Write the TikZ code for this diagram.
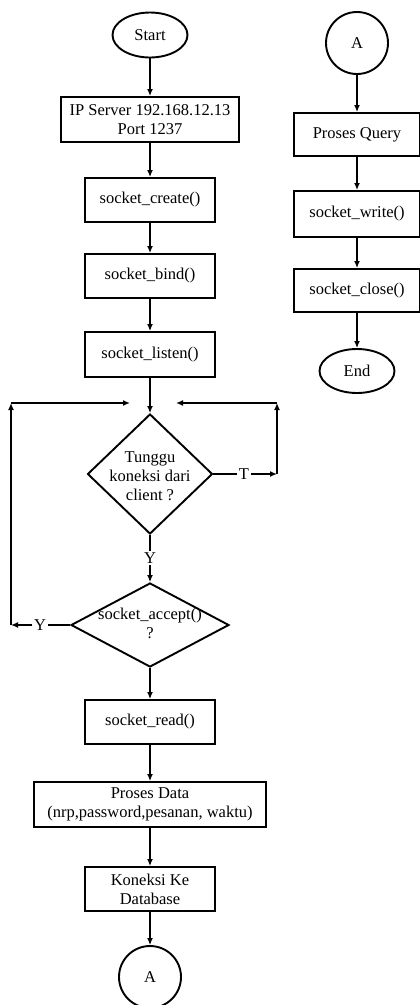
\documentclass[tikz,border=0pt]{standalone}
\usepackage{fontspec}
\setmainfont{Liberation Serif}
\usetikzlibrary{shapes.geometric,arrows.meta}
\begin{document}
\begin{tikzpicture}[x=1pt,y=-1pt,
  every node/.style={font=\fontsize{16.5}{19}\selectfont, inner sep=0pt},
  box/.style={draw, line width=1.9pt, rectangle, minimum height=44pt, align=center},
  term/.style={draw, line width=1.9pt, ellipse, minimum width=75pt, minimum height=45pt},
  conn/.style={draw, line width=1.9pt, circle, minimum size=62pt},
  dia/.style={draw, line width=1.9pt, diamond},
  line/.style={line width=1.9pt},
  arr/.style={line width=1.9pt, -{Latex[length=7pt,width=6pt]}},
  lab/.style={fill=white, inner sep=1.5pt}]
\useasboundingbox (0,0) rectangle (420,1005);
% left column
\node[term] (start) at (150,35) {Start};
\node[box, minimum width=178pt, minimum height=45pt] (ip) at (150,119.5) {IP Server 192.168.12.13\\Port 1237};
\node[box, minimum width=130pt] (create) at (150,200) {socket\_create()};
\node[box, minimum width=130pt] (bind) at (150,276) {socket\_bind()};
\node[box, minimum width=130pt, minimum height=45pt] (listen) at (150,354.5) {socket\_listen()};
\node[dia, minimum width=125pt, minimum height=120pt] (d1) at (150,474) {};
\node[align=center] (d1t) at (150,476) {Tunggu\\koneksi dari\\client ?};
\node[lab] (y1) at (150,558) {Y};
\node[dia, minimum width=158pt, minimum height=84pt] (d2) at (150,625) {};
\node[align=center] (d2t) at (150,623) {socket\_accept()\\?};
\node[box, minimum width=130pt] (read) at (150,722) {socket\_read()};
\node[box, minimum width=232pt, minimum height=45pt] (pdata) at (150,804.5) {Proses Data\\(nrp,password,pesanan, waktu)};
\node[box, minimum width=130pt] (kon) at (150,889) {Koneksi Ke\\Database};
\node[conn] (a1) at (150,977) {A};
% loop labels and corners
\node[lab] (t) at (244,474) {T};
\node[lab] (y2) at (40,625) {Y};
\coordinate (rc1) at (277,474);
\coordinate (rc2) at (277,403);
\coordinate (rin) at (176,403);
\coordinate (lc1) at (11,625);
\coordinate (lc2) at (11,403);
\coordinate (lin) at (130,403);
% right column
\node[conn] (a2) at (357,43) {A};
\node[box, minimum width=126pt, minimum height=43pt] (pq) at (357,134.5) {Proses Query};
\node[box, minimum width=126pt, minimum height=46pt] (sw) at (357,214) {socket\_write()};
\node[box, minimum width=126pt, minimum height=43pt] (sc) at (357,290.5) {socket\_close()};
\node[term, minimum height=44pt] (end) at (357,371) {End};
% connectors left
\draw[arr] (start) -- (ip);
\draw[arr] (ip) -- (create);
\draw[arr] (create) -- (bind);
\draw[arr] (bind) -- (listen);
\draw[arr] (listen) -- (d1.north);
\draw[line] (d1.south) -- (y1);
\draw[arr] (y1) -- (d2.north);
\draw[arr] (d2.south) -- (read);
\draw[arr] (read) -- (pdata);
\draw[arr] (pdata) -- (kon);
\draw[arr] (kon) -- (a1);
% T loop
\draw[line] (d1.east) -- (t);
\draw[arr] (t) -- (rc1);
\draw[arr] (rc1) -- (rc2);
\draw[arr] (rc2) -- (rin);
% Y loop
\draw[line] (d2.west) -- (y2);
\draw[arr] (y2) -- (lc1);
\draw[arr] (lc1) -- (lc2);
\draw[arr] (lc2) -- (lin);
% connectors right
\draw[arr] (a2) -- (pq);
\draw[arr] (pq) -- (sw);
\draw[arr] (sw) -- (sc);
\draw[arr] (sc) -- (end);
\end{tikzpicture}
\end{document}
